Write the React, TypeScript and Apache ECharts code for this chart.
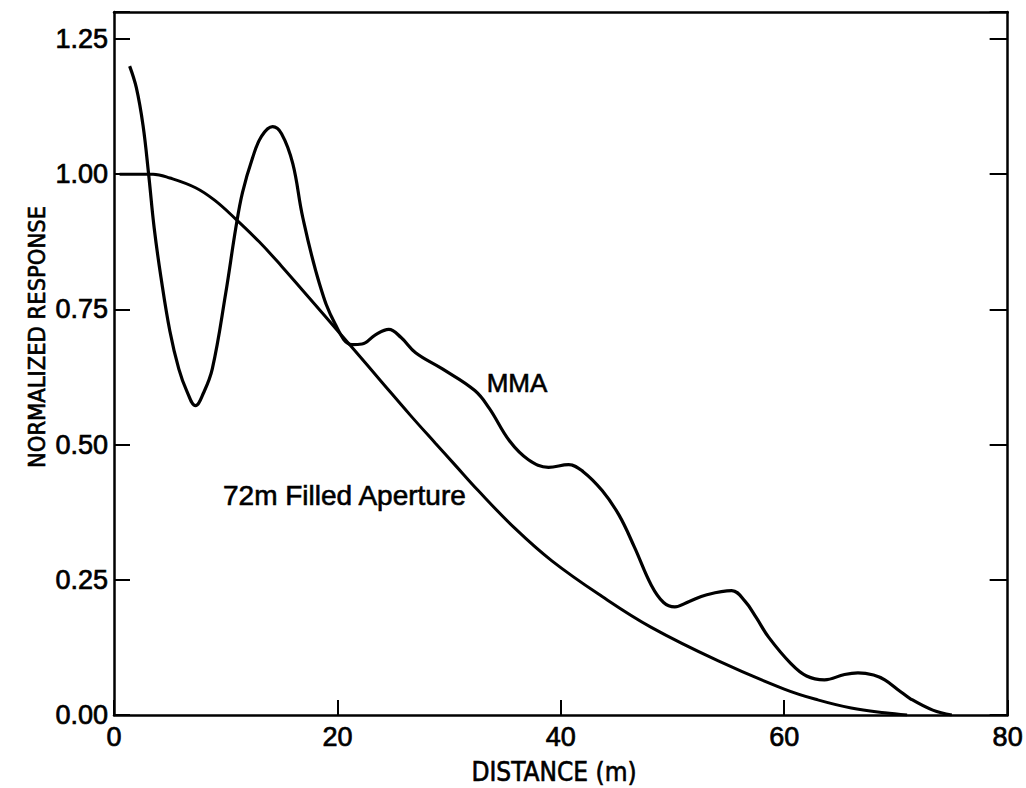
import React, { useEffect, useRef } from "react";
import * as echarts from "echarts";

// Multi-mirror array response vs. distance, with a 72 m filled aperture for comparison
const mmaDistance = [
  1.4, 2.0, 2.6, 3.1, 3.6, 4.2, 5.0, 5.8, 6.5, 7.3, 8.0, 8.8, 10.0, 10.9, 11.5,
  12.4, 13.2, 14.2, 15.0, 16.0, 16.9, 18.4, 19.8, 21.3, 22.2, 23.4, 24.6, 25.7,
  27.0, 29.4, 32.3, 33.6, 35.4, 37.1, 38.9, 40.7, 42.0, 43.7, 45.2, 46.6, 48.1,
  49.2, 50.2, 51.5, 53.0, 55.3, 56.5, 57.5, 58.6, 60.6, 62.0, 63.6, 65.4, 66.6,
  68.0, 69.0, 70.3, 71.3, 73.3, 75.0,
];
const mmaResponse = [
  1.2, 1.16, 1.09, 1.0, 0.9, 0.81, 0.71, 0.64, 0.6, 0.572, 0.595, 0.64, 0.78,
  0.9, 0.966, 1.03, 1.07, 1.088, 1.075, 1.02, 0.92, 0.797, 0.723, 0.685, 0.686,
  0.703, 0.713, 0.698, 0.67, 0.64, 0.6, 0.567, 0.507, 0.472, 0.458, 0.463, 0.45,
  0.415, 0.37, 0.31, 0.24, 0.208, 0.2, 0.21, 0.222, 0.23, 0.21, 0.18, 0.144,
  0.095, 0.072, 0.065, 0.075, 0.078, 0.074, 0.065, 0.045, 0.03, 0.009, 0.0,
];

const filledDistance = [
  0.5, 2, 3.5, 5, 7.3, 9, 10.9, 13, 15, 16.9, 19, 21.3, 24, 26.5, 28.75, 30.5,
  32.6, 35.9, 39.2, 43.7, 48.1, 54.1, 60, 63, 66, 69, 71,
];
const filledResponse = [
  1.0, 1.0, 1.0, 0.993, 0.975, 0.952, 0.917, 0.875, 0.83, 0.785, 0.735, 0.68,
  0.615, 0.555, 0.503, 0.463, 0.415, 0.345, 0.285, 0.219, 0.162, 0.1, 0.048,
  0.028, 0.013, 0.004, 0.0,
];

const xTicks = [0, 20, 40, 60, 80];
const yTicks = [0, 0.25, 0.5, 0.75, 1.0, 1.25];

const xTitle = "DISTANCE (m)";
const yTitle = "NORMALIZED RESPONSE";
const mmaLabel = "MMA";
const filledLabel = "72m Filled Aperture";

const FONT = "'Liberation Sans', Arial, sans-serif";
const NARROW = "'Liberation Sans Narrow', 'DejaVu Sans Condensed', 'Liberation Sans', sans-serif";
const INK = "#000";

export default function App() {
  const ref = useRef<HTMLDivElement>(null);

  useEffect(() => {
    if (!ref.current) return;
    const chart = echarts.init(ref.current, undefined, { renderer: "svg" });

    const pairs = (xs: number[], ys: number[]) => xs.map((x, i) => [x, ys[i]]);
    const isTick = (v: number, list: number[]) =>
      list.some((t) => Math.abs(t - v) < 1e-6);

    const lineAxis = { show: true, onZero: false, lineStyle: { color: INK, width: 2.5 } };
    const heavy = { textBorderColor: INK, textBorderWidth: 0.7 };

    chart.setOption({
      animation: false,
      backgroundColor: "#fff",
      grid: { left: 114, right: 16, top: 12, bottom: 73 },
      xAxis: [
        {
          type: "value",
          min: 0,
          max: 80,
          interval: 20,
          axisLine: lineAxis,
          axisTick: { show: true, inside: true, length: 15, lineStyle: { color: INK, width: 2 } },
          axisLabel: {
            color: INK,
            fontSize: 27,
            fontFamily: FONT,
            margin: 8,
            ...heavy,
            formatter: (v: number) => (isTick(v, xTicks) ? String(v) : ""),
          },
          splitLine: { show: false },
        },
        {
          type: "value",
          position: "top",
          min: 0,
          max: 80,
          axisLine: lineAxis,
          axisTick: { show: false },
          axisLabel: { show: false },
          splitLine: { show: false },
        },
      ],
      yAxis: [
        {
          type: "value",
          min: 0,
          max: 1.3,
          interval: 0.25,
          axisLine: lineAxis,
          axisTick: { show: true, inside: true, length: 16, lineStyle: { color: INK, width: 2 } },
          axisLabel: {
            color: INK,
            fontSize: 27,
            fontFamily: FONT,
            margin: 6,
            ...heavy,
            formatter: (v: number) => (isTick(v, yTicks) ? v.toFixed(2) : ""),
          },
          splitLine: { show: false },
        },
        {
          type: "value",
          position: "right",
          min: 0,
          max: 1.3,
          interval: 0.25,
          axisLine: lineAxis,
          axisTick: { show: true, inside: true, length: 18, lineStyle: { color: INK, width: 2 } },
          axisLabel: { show: false },
          splitLine: { show: false },
        },
      ],
      series: [
        {
          name: mmaLabel,
          type: "line",
          xAxisIndex: 0,
          yAxisIndex: 0,
          data: pairs(mmaDistance, mmaResponse),
          smooth: 0.4,
          showSymbol: false,
          lineStyle: { color: INK, width: 3.2 },
        },
        {
          name: filledLabel,
          type: "line",
          xAxisIndex: 0,
          yAxisIndex: 0,
          data: pairs(filledDistance, filledResponse),
          smooth: 0.4,
          showSymbol: false,
          lineStyle: { color: INK, width: 3 },
        },
      ],
      graphic: [
        {
          type: "text",
          x: 554,
          y: 772,
          style: {
            text: xTitle,
            fill: INK,
            font: `26px ${NARROW}`,
            align: "center",
            verticalAlign: "middle",
            stroke: INK,
            lineWidth: 0.6,
          },
        },
        {
          type: "text",
          x: 37,
          y: 337,
          rotation: Math.PI / 2,
          style: {
            text: yTitle,
            fill: INK,
            font: `23.5px ${NARROW}`,
            align: "center",
            verticalAlign: "middle",
            stroke: INK,
            lineWidth: 0.6,
          },
        },
        {
          type: "text",
          x: 517,
          y: 383,
          style: {
            text: mmaLabel,
            fill: INK,
            font: `26px ${FONT}`,
            align: "center",
            verticalAlign: "middle",
            stroke: INK,
            lineWidth: 0.6,
          },
        },
        {
          type: "text",
          x: 223,
          y: 495,
          style: {
            text: filledLabel,
            fill: INK,
            font: `28px ${FONT}`,
            align: "left",
            verticalAlign: "middle",
            stroke: INK,
            lineWidth: 0.6,
          },
        },
      ],
    });

    return () => chart.dispose();
  }, []);

  return (
    <div
      ref={ref}
      style={{ position: "fixed", left: 0, top: 0, width: 1026, height: 788, background: "#fff" }}
    />
  );
}
